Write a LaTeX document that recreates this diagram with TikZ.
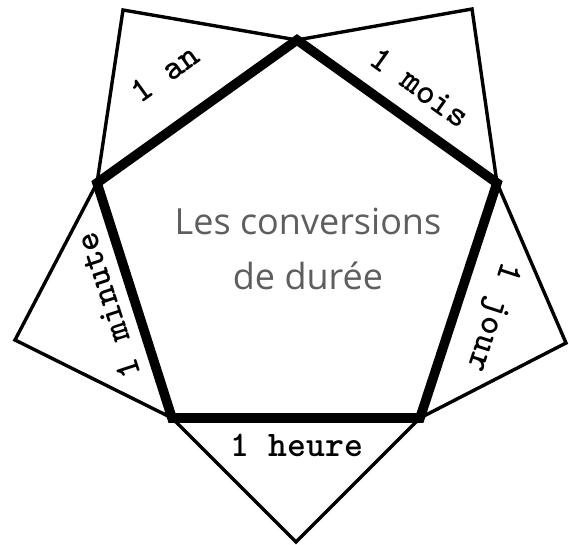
\documentclass[tikz,border=0pt]{standalone}
\usepackage{fontspec}
\newfontfamily\titlefont{Open Sans}
\usetikzlibrary{positioning}
\definecolor{TitleGrey}{HTML}{5E5E5E}

\begin{document}
\begin{tikzpicture}[x=0.5pt,y=0.5pt,
  flap/.style={line width=1.7pt,line join=miter},
  rim/.style={line width=4.8pt,line join=miter},
  unit/.style={font=\ttfamily\bfseries\fontsize{18}{20}\selectfont,inner sep=0pt}]
  \useasboundingbox (0,0) rectangle (569,545);
  % pentagon corners
  \coordinate (T) at (297,505);
  \coordinate (R) at (497,362);
  \coordinate (BR) at (420,127);
  \coordinate (BL) at (172,127);
  \coordinate (L) at (97,362);
  % flap tips
  \coordinate (tipAn) at (123,535);
  \coordinate (tipMois) at (472,536);
  \coordinate (tipJour) at (566,202);
  \coordinate (tipHeure) at (296,3);
  \coordinate (tipMinute) at (15,205);
  \draw[flap] (L) -- (tipAn) -- (T);
  \draw[flap] (T) -- (tipMois) -- (R);
  \draw[flap] (R) -- (tipJour) -- (BR);
  \draw[flap] (BR) -- (tipHeure) -- (BL);
  \draw[flap] (BL) -- (tipMinute) -- (L);
  \draw[rim] (T) -- (R) -- (BR) -- (BL) -- (L) -- cycle;
  % labels
  \node[unit,rotate=35.6] (an) at (165,472) {1 an};
  \node[unit,rotate=-35.6] (mois) at (420,458) {1 mois};
  \node[unit,rotate=-108] (jour) at (492,228) {1 jour};
  \node[unit] (heure) at (297,100) {1 heure};
  \node[unit,rotate=108] (minute) at (108,239) {1 minute};
  \node[font=\titlefont\fontsize{18}{27.5}\selectfont,text=TitleGrey,align=center] (title) at (308,296) {Les conversions\\de durée};
\end{tikzpicture}
\end{document}
